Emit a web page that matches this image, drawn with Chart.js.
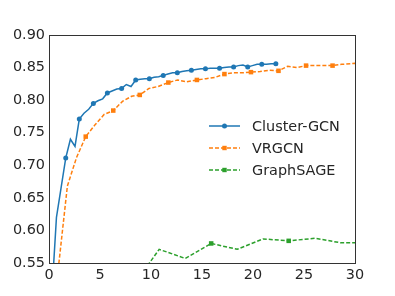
<!DOCTYPE html>
<html>
<head>
<meta charset="utf-8">
<script src="https://cdn.jsdelivr.net/npm/chart.js@4"></script>
<style>
  html, body { margin: 0; padding: 0; background: #fff; }
  #wrap { width: 395px; height: 296px; }
</style>
</head>
<body>
<div id="wrap"><canvas id="acc"></canvas></div>
<script>
var seriesNames = ["Cluster-GCN", "VRGCN", "GraphSAGE"];
var seriesColors = ["#1f77b4", "#ff7f0e", "#2ca02c"];

// Cluster-GCN (marker on every 3rd point)
var clusterX = [0.27, 0.73, 1.18, 1.64, 2.10, 2.55, 2.97, 3.43, 3.89, 4.35,
  4.80, 5.26, 5.72, 6.18, 6.65, 7.12, 7.58, 8.04, 8.50, 8.95,
  9.40, 9.84, 10.30, 10.75, 11.20, 11.66, 12.12, 12.58, 13.04, 13.50,
  13.96, 14.42, 14.88, 15.34, 15.80, 16.26, 16.72, 17.18, 17.64, 18.10,
  18.56, 19.02, 19.48, 19.94, 20.40, 20.86, 21.32, 21.78, 22.24];
var clusterY = [0.500, 0.620, 0.665, 0.711, 0.740, 0.729, 0.771, 0.780, 0.786, 0.795,
  0.799, 0.802, 0.811, 0.814, 0.817, 0.818, 0.824, 0.821, 0.831, 0.832,
  0.833, 0.833, 0.835, 0.836, 0.838, 0.840, 0.842, 0.842, 0.844, 0.845,
  0.846, 0.847, 0.848, 0.848, 0.849, 0.849, 0.849, 0.850, 0.851, 0.851,
  0.853, 0.854, 0.851, 0.853, 0.855, 0.855, 0.855, 0.856, 0.856];

// VRGCN
var vrgcnX = [0.9, 1.8, 2.7, 3.6, 4.5, 5.4, 6.3, 7.2, 8.1, 8.9,
  9.8, 10.7, 11.7, 12.6, 13.5, 14.5, 15.4, 16.3, 17.2, 18.1,
  19.0, 19.8, 20.7, 21.6, 22.5, 23.4, 24.3, 25.2, 26.1, 27.0,
  27.8, 28.7, 29.6, 30.5];
var vrgcnY = [0.540, 0.668, 0.712, 0.744, 0.762, 0.778, 0.784, 0.798, 0.806, 0.808,
  0.818, 0.821, 0.827, 0.831, 0.828, 0.831, 0.833, 0.835, 0.840, 0.842,
  0.842, 0.843, 0.844, 0.846, 0.845, 0.852, 0.850, 0.853, 0.853, 0.853,
  0.853, 0.855, 0.856, 0.857];

// GraphSAGE
var sageX = [0.6, 3.15, 5.7, 8.25, 10.8, 13.35, 15.9, 18.45, 21.0, 23.5, 26.1, 28.6, 31.2];
var sageY = [0.300, 0.400, 0.460, 0.515, 0.571, 0.557, 0.580, 0.571, 0.587, 0.584, 0.588, 0.581, 0.581];

var xTicks = [0, 5, 10, 15, 20, 25, 30];
var yTicks = [0.55, 0.60, 0.65, 0.70, 0.75, 0.80, 0.85, 0.90];

function pts(xs, ys) {
  var out = [];
  for (var i = 0; i < xs.length; i++) out.push({x: xs[i], y: ys[i]});
  return out;
}

var textColor = "#262626";
var fontFam = "'DejaVu Sans', sans-serif";

function markEvery3(r) {
  return function (ctx) { return ctx.index % 3 === 0 ? r : 0; };
}

// frame round the plot area + legend inside it
var framePlugin = {
  id: "frame",
  afterDraw: function (chart) {
    var a = chart.chartArea, c = chart.ctx;
    c.save();
    c.strokeStyle = "#333";
    c.lineWidth = 1;
    c.strokeRect(Math.round(a.left) + 0.5, Math.round(a.top) + 0.5,
      Math.round(a.right - a.left), Math.round(a.bottom - a.top));

    var ys = [126, 148, 170];
    var styles = [{dash: [], pt: "circle"}, {dash: [4, 2], pt: "rect"}, {dash: [4, 2], pt: "rect"}];
    c.font = "14.4px " + fontFam;
    c.textBaseline = "middle";
    for (var i = 0; i < seriesNames.length; i++) {
      var y = ys[i];
      c.strokeStyle = seriesColors[i];
      c.fillStyle = seriesColors[i];
      c.lineWidth = 1.5;
      c.setLineDash(styles[i].dash);
      c.beginPath();
      c.moveTo(209, y);
      c.lineTo(240, y);
      c.stroke();
      c.setLineDash([]);
      if (styles[i].pt === "circle") {
        c.beginPath();
        c.arc(224.5, y, 2.5, 0, Math.PI * 2);
        c.fill();
      } else {
        c.fillRect(222.3, y - 2.2, 4.4, 4.4);
      }
      c.fillStyle = textColor;
      c.fillText(seriesNames[i], 252, y + 1);
    }
    c.restore();
  }
};

new Chart("acc", {
  type: "line",
  data: {
    datasets: [{
      label: seriesNames[0],
      data: pts(clusterX, clusterY),
      borderColor: seriesColors[0],
      backgroundColor: seriesColors[0],
      borderWidth: 1.5,
      pointStyle: "circle",
      pointRadius: markEvery3(2.5),
      pointBorderWidth: 0,
      tension: 0,
      fill: false
    }, {
      label: seriesNames[1],
      data: pts(vrgcnX, vrgcnY),
      borderColor: seriesColors[1],
      backgroundColor: seriesColors[1],
      borderWidth: 1.5,
      borderDash: [4, 2],
      pointStyle: "rect",
      pointRadius: markEvery3(3.2),
      pointBorderWidth: 0,
      tension: 0,
      fill: false
    }, {
      label: seriesNames[2],
      data: pts(sageX, sageY),
      borderColor: seriesColors[2],
      backgroundColor: seriesColors[2],
      borderWidth: 1.5,
      borderDash: [4, 2],
      pointStyle: "rect",
      pointRadius: markEvery3(3.2),
      pointBorderWidth: 0,
      tension: 0,
      fill: false
    }]
  },
  options: {
    responsive: true,
    maintainAspectRatio: false,
    animation: false,
    events: [],
    layout: {padding: {top: 35, right: 40, left: 0, bottom: 0}},
    plugins: {legend: {display: false}, tooltip: {enabled: false}},
    scales: {
      x: {
        type: "linear",
        min: 0, max: 30,
        afterBuildTicks: function (s) { s.ticks = xTicks.map(function (v) { return {value: v}; }); },
        afterFit: function (s) { s.height = 33; },
        grid: {display: false, drawTicks: false},
        border: {display: false},
        ticks: {color: textColor, font: {family: fontFam, size: 14.4}, padding: 4, maxRotation: 0,
          callback: function (v) { return String(v); }}
      },
      y: {
        type: "linear",
        min: 0.55, max: 0.90,
        afterBuildTicks: function (s) { s.ticks = yTicks.map(function (v) { return {value: v}; }); },
        afterFit: function (s) { s.width = 49; },
        grid: {display: false, drawTicks: false},
        border: {display: false},
        ticks: {color: textColor, font: {family: fontFam, size: 14.4}, padding: 4,
          callback: function (v) { return Number(v).toFixed(2); }}
      }
    }
  },
  plugins: [framePlugin]
});
</script>
</body>
</html>
